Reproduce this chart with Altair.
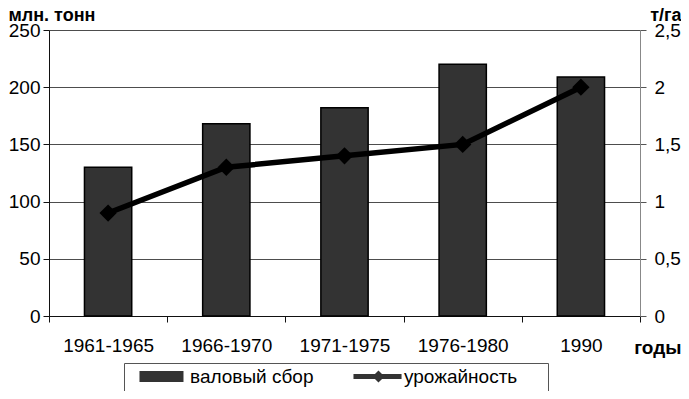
import altair as alt
import pandas as pd

periods = ["1961-1965", "1966-1970", "1971-1975", "1976-1980", "1990"]
gross_harvest = [130, 168, 182, 220, 209]
crop_yield = [0.9, 1.3, 1.4, 1.5, 2.0]
series_names = ["валовый сбор", "урожайность"]
left_ticks = [0, 50, 100, 150, 200, 250]
right_ticks = [0, 0.5, 1, 1.5, 2, 2.5]

df = pd.DataFrame({"period": periods, "gross": gross_harvest, "yld": crop_yield})
leg = pd.DataFrame({"series": series_names})

FONT = "Liberation Sans"
FS = 19
TFS = 18

bar_path = "M0.22,-0.61 L5.11,-0.61 L5.11,0.61 L0.22,0.61 Z"
line_path = ("M0.22,-0.28 L2.61,-0.28 L3.0,-0.67 L3.39,-0.28 L5.56,-0.28 "
             "L5.56,0.28 L3.39,0.28 L3.0,0.67 L2.61,0.28 L0.22,0.28 Z")

xenc = alt.X(
    "period:N", sort=periods,
    scale=alt.Scale(paddingInner=0, paddingOuter=0),
    axis=alt.Axis(
        title="годы", titleX=632, titleY=37, titleAlign="right",
        titleBaseline="alphabetic", titleFontWeight="bold", titleFontSize=FS,
        titleFont=FONT, titleColor="black",
        labelAngle=0, tickBand="extent", tickSize=6, labelPadding=14,
        domainColor="#111", tickColor="#111", labelFontSize=FS, labelFont=FONT,
        labelColor="black", grid=False,
    ),
)

bars = alt.Chart(df).mark_bar(
    width={"band": 0.4}, color="#333333", stroke="#000000", strokeWidth=1.5
).encode(
    x=xenc,
    y=alt.Y(
        "gross:Q",
        scale=alt.Scale(domain=[0, 250], nice=False),
        axis=alt.Axis(
            values=left_ticks, title="млн. тонн", titleAngle=0, titleX=-41, titleY=-10,
            titleAlign="left", titleBaseline="alphabetic", titleFontWeight="bold",
            titleFontSize=TFS, titleFont=FONT, titleColor="black",
            labelFontSize=FS, labelFont=FONT, labelColor="black", labelPadding=3,
            tickSize=6, tickColor="#111", domainColor="#111",
            grid=True, gridColor="#4d4d4d", gridWidth=1,
        ),
    ),
)

line = alt.Chart(df).mark_line(
    color="black", strokeWidth=5.5,
    point=alt.OverlayMarkDef(shape="diamond", size=300, filled=True, color="black"),
).encode(
    x=alt.X("period:N", sort=periods),
    y=alt.Y(
        "yld:Q",
        scale=alt.Scale(domain=[0, 2.5], nice=False),
        axis=alt.Axis(
            orient="right", values=right_ticks,
            labelExpr="replace(format(datum.value, '~g'), '.', ',')",
            title="т/га", titleAngle=0, titleX=41, titleY=-10, titleAlign="right",
            titleBaseline="alphabetic", titleFontWeight="bold", titleFontSize=TFS,
            titleFont=FONT, titleColor="black",
            labelFontSize=FS, labelFont=FONT, labelColor="black", labelPadding=8,
            tickSize=6, tickColor="#555", domainColor="#888", grid=False,
        ),
    ),
)

pad = "\u00a0" * 5 + "\u200b"
legend_layer = alt.Chart(leg).transform_filter("false").mark_point(
    filled=True, color="#333333", size=324
).encode(
    shape=alt.Shape(
        "series:N",
        scale=alt.Scale(domain=series_names, range=[bar_path, line_path]),
        legend=alt.Legend(
            title=None, orient="none", legendX=75, legendY=333,
            direction="horizontal", columns=2, gridAlign="none",
            fillColor="white", strokeColor="#555555", padding=4,
            labelFont=FONT, labelFontSize=FS, labelColor="black", labelOffset=43,
            labelExpr=f"datum.label == '{series_names[1]}' ? datum.label + '{pad}' : datum.label",
            columnPadding=28, symbolSize=324, symbolOpacity=1,
            symbolFillColor="#333333", symbolStrokeColor="#000000", symbolStrokeWidth=1,
            labelLimit=400,
        ),
    ),
)

chart = alt.layer(bars, line, legend_layer).resolve_scale(y="independent").properties(
    width=591, height=286,
    padding={"left": 41, "top": 22, "right": 41, "bottom": 75},
    autosize="none",
).configure_view(
    fill="#c0c0c0", stroke="#777777", strokeWidth=1
).configure(font=FONT, background="white")

chart.save("out.html", embed_options={"renderer": "svg", "actions": False})
